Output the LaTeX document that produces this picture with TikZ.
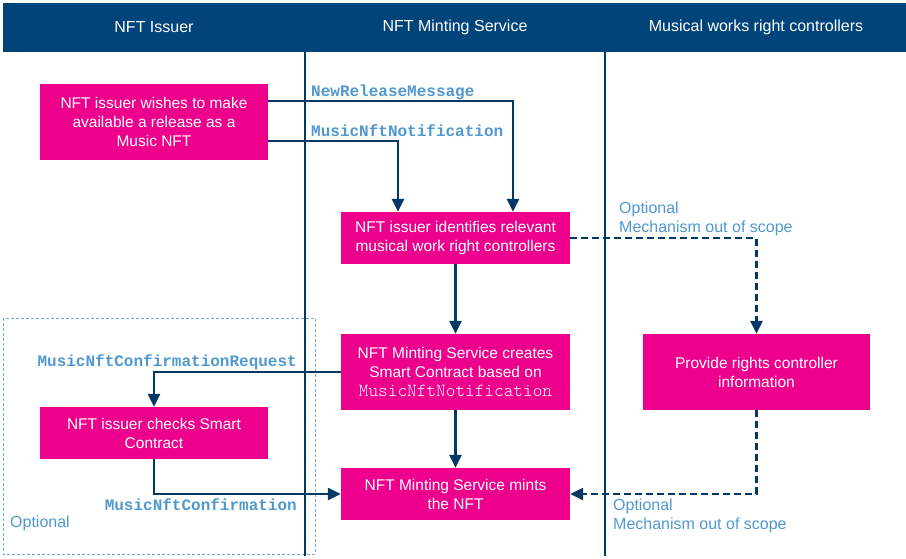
\documentclass[tikz,border=0pt]{standalone}
\usepackage{fontspec}
\setmainfont{Liberation Sans}
\setmonofont{Liberation Mono}
\newfontfamily\lightmono{lmmonolt10-regular.otf}
\usetikzlibrary{arrows.meta}
\definecolor{hdr}{RGB}{0,68,122}
\definecolor{navy}{RGB}{4,56,100}
\definecolor{pink}{RGB}{236,0,140}
\definecolor{lblue}{RGB}{80,152,208}
\definecolor{dblue}{RGB}{110,170,220}
\tikzset{
  box/.style={fill=pink, text=white, align=center, inner sep=0pt,
    minimum width=228pt, font=\fontsize{15.5}{19}\selectfont},
  flow/.style={draw=navy, line width=2.4pt, -{Triangle[length=13pt,width=12pt]}},
  dflow/.style={flow, dash pattern=on 7pt off 4pt},
  msg/.style={text=lblue, inner sep=0pt, font=\ttfamily\bfseries\fontsize{16}{18}\selectfont},
  note/.style={text=lblue, inner sep=0pt, align=left, font=\fontsize{16}{19}\selectfont},
  lane/.style={draw=navy, line width=2.6pt},
  hdrtext/.style={text=white, font=\fontsize{16}{18}\selectfont}
}
\begin{document}
\begin{tikzpicture}[x=1pt,y=-1pt]
\useasboundingbox (0,0) rectangle (906,558);
% header
\fill[hdr] (3,3) rectangle (906,52);
\node[hdrtext] (h1) at (154,27) {NFT Issuer};
\node[hdrtext] (h2) at (455,27) {NFT Minting Service};
\node[hdrtext] (h3) at (756,27) {Musical works right controllers};
% optional region
\draw[dblue, line width=0.9pt, dash pattern=on 3pt off 2pt] (3,318) rectangle (315,554);
\node[note, anchor=west] (opt) at (10,523) {Optional};
% boxes
\node[box, minimum height=76pt] (b1) at (154,122) {NFT issuer wishes to make\\available a release as a\\Music NFT};
\node[box, minimum width=229pt, minimum height=52pt] (b2) at (455.5,238) {NFT issuer identifies relevant\\musical work right controllers};
\node[box, minimum width=229pt, minimum height=76pt] (b3) at (455.5,372) {NFT Minting Service creates\\Smart Contract based on\\{\lightmono\fontsize{18.4}{19}\selectfont MusicNftNotification}};
\node[box, minimum height=52pt] (b4) at (154,433) {NFT issuer checks Smart\\Contract};
\node[box, minimum width=229pt, minimum height=52pt] (b5) at (455.5,494) {NFT Minting Service mints\\the NFT};
\node[box, minimum width=227pt, minimum height=76pt] (b6) at (756.5,372) {Provide rights controller\\information};
% flows
\draw[flow] ([yshift=21pt]b1.east) -| ([xshift=57.5pt]b2.north);
\draw[flow] ([yshift=-19pt]b1.east) -| ([xshift=-57.5pt]b2.north);
\node[msg, anchor=west] (m1) at (311,92) {NewReleaseMessage};
\node[msg, anchor=west] (m2) at (311,131) {MusicNftNotification};
\draw[flow] (b2) -- (b3);
\draw[flow] (b3) -- (b5);
\draw[dflow] (b2.east) -| (b6.north);
\node[note, anchor=west] (n1) at (619,218.5) {Optional\\Mechanism out of scope};
\draw[dflow] (b6.south) |- (b5.east);
\node[note, anchor=west] (n2) at (613,515.5) {Optional\\Mechanism out of scope};
\draw[flow] (b3.west) -| (b4.north);
\node[msg, anchor=east] (m3) at (297,362) {MusicNftConfirmationRequest};
\draw[flow] (b4.south) |- (b5.west);
\node[msg, anchor=east] (m4) at (297,505) {MusicNftConfirmation};
% lanes
\coordinate (l1t) at (305,52); \coordinate (l1b) at (305,556);
\coordinate (l2t) at (605,52); \coordinate (l2b) at (605,556);
\draw[lane] (l1t) -- (l1b);
\draw[lane] (l2t) -- (l2b);
\end{tikzpicture}
\end{document}
